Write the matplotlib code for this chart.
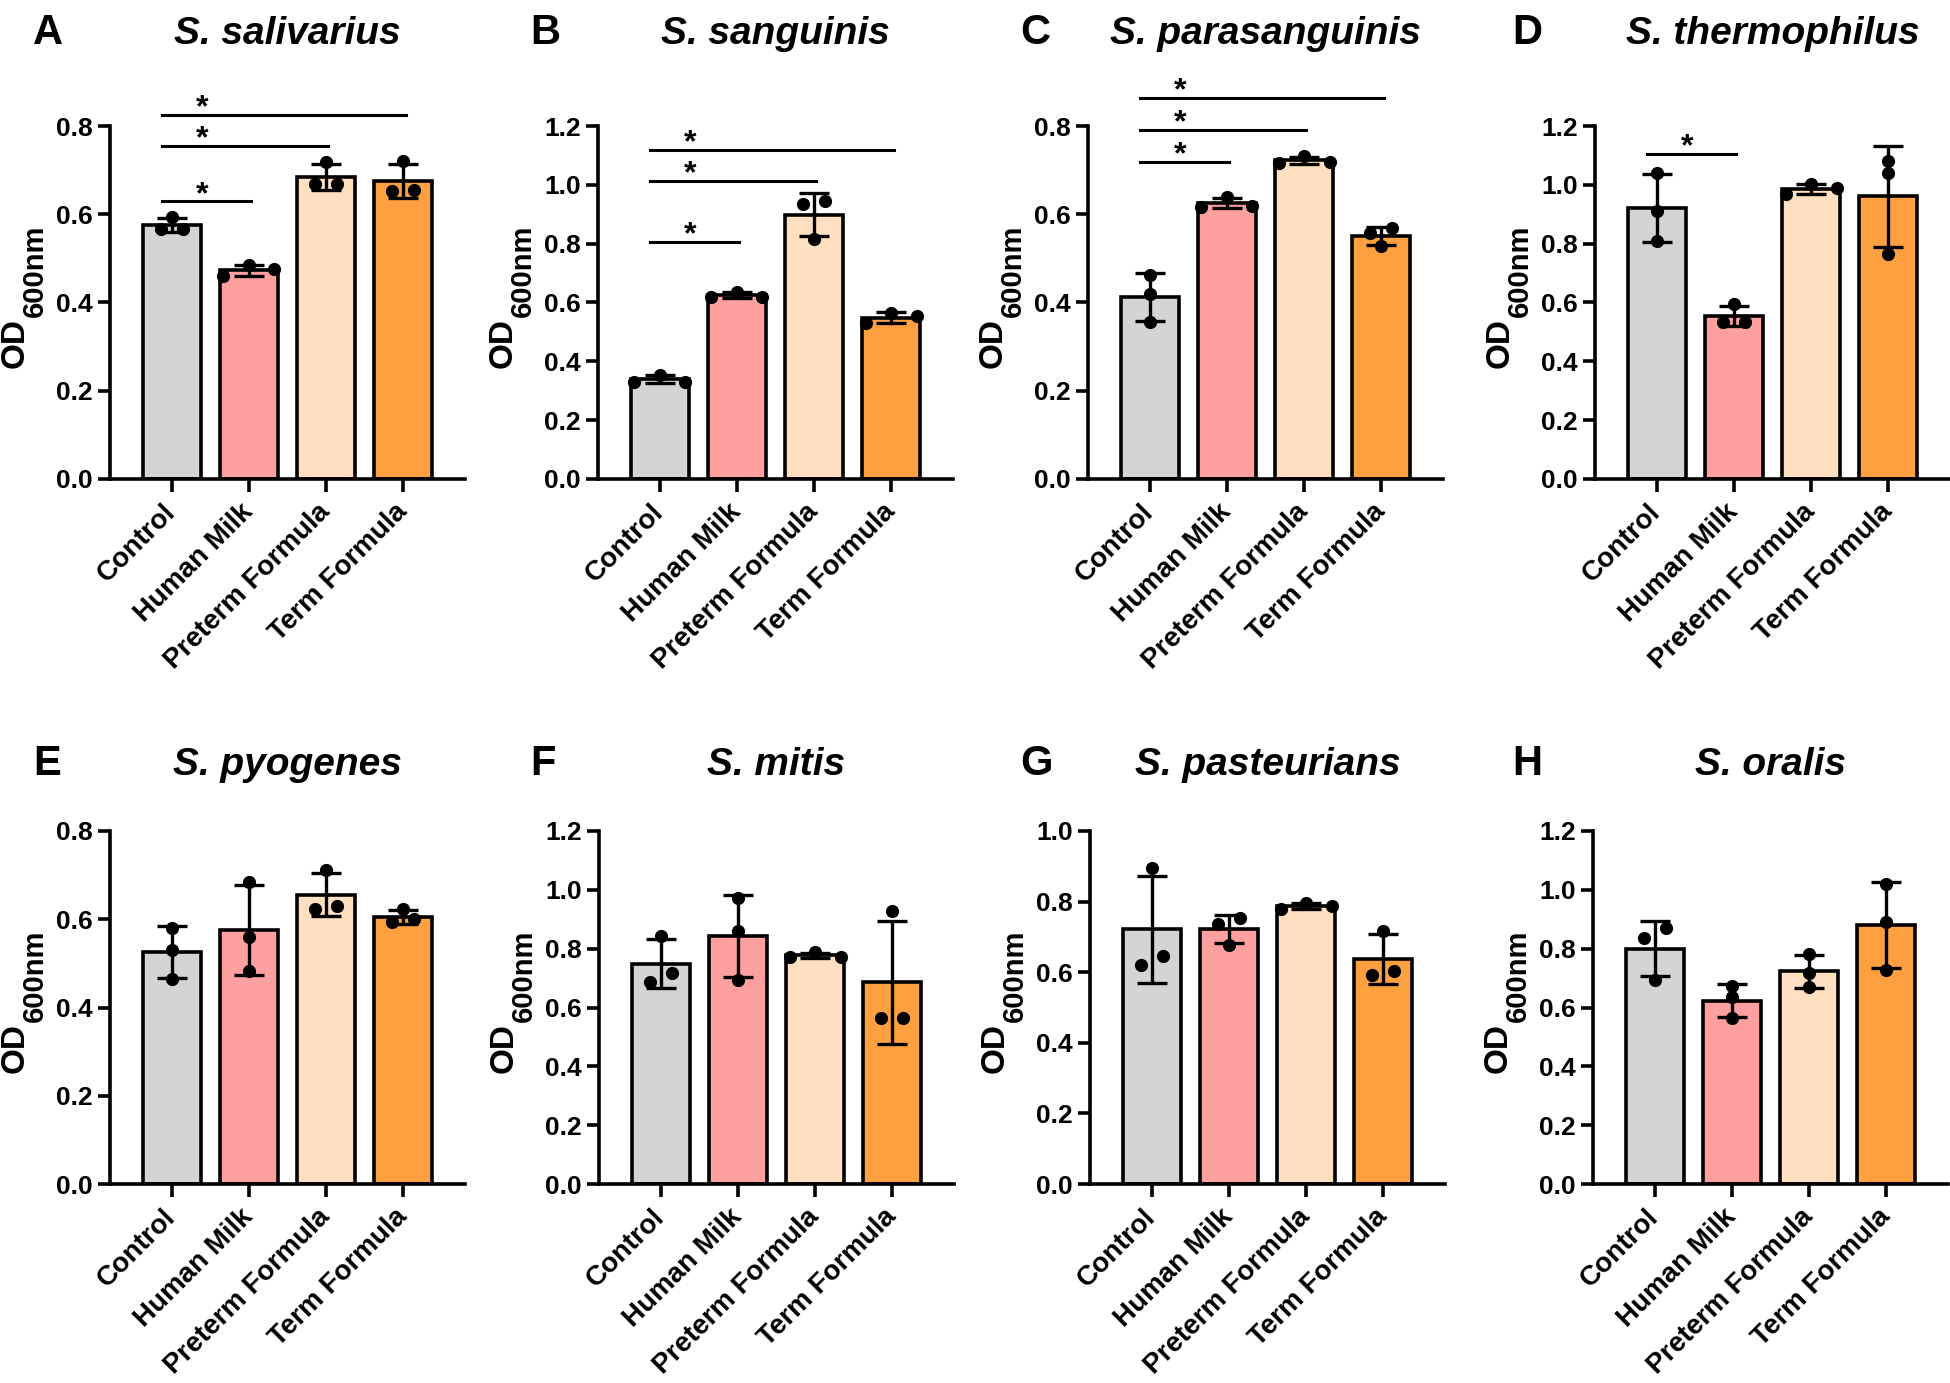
import numpy as np
import matplotlib
matplotlib.use("Agg")
import matplotlib.pyplot as plt

plt.rcParams["font.family"] = ["Liberation Sans", "DejaVu Sans"]
plt.rcParams["font.weight"] = "bold"

groups = ["Control", "Human Milk", "Preterm Formula", "Term Formula"]
colors = ["#D4D4D4", "#FFA0A0", "#FFDFC0", "#FFA040"]

letters = ["A", "B", "C", "D", "E", "F", "G", "H"]
titles = ["S. salivarius", "S. sanguinis", "S. parasanguinis", "S. thermophilus",
          "S. pyogenes", "S. mitis", "S. pasteurians", "S. oralis"]
ymax = [0.8, 1.2, 0.8, 1.2, 0.8, 1.2, 1.0, 1.2]

# OD600 replicates, one list of 3 per group (Control, HM, Preterm, Term)
salivarius = [[0.594, 0.566, 0.566], [0.485, 0.459, 0.475], [0.718, 0.668, 0.668], [0.720, 0.655, 0.652]]
sanguinis = [[0.354, 0.331, 0.331], [0.637, 0.620, 0.620], [0.945, 0.935, 0.815], [0.563, 0.529, 0.554]]
parasanguinis = [[0.462, 0.419, 0.355], [0.638, 0.617, 0.619], [0.717, 0.732, 0.719], [0.568, 0.557, 0.527]]
thermophilus = [[1.041, 0.912, 0.810], [0.595, 0.535, 0.535], [0.968, 1.002, 0.990], [1.081, 1.039, 0.765]]
pyogenes = [[0.581, 0.531, 0.465], [0.685, 0.560, 0.482], [0.712, 0.624, 0.631], [0.624, 0.594, 0.600]]
mitis = [[0.843, 0.718, 0.686], [0.971, 0.861, 0.694], [0.773, 0.788, 0.773], [0.928, 0.565, 0.565]]
pasteurians = [[0.896, 0.620, 0.647], [0.754, 0.737, 0.677], [0.778, 0.795, 0.788], [0.718, 0.592, 0.602]]
oralis = [[0.869, 0.837, 0.694], [0.672, 0.636, 0.563], [0.782, 0.718, 0.668], [1.019, 0.892, 0.727]]
panels = [salivarius, sanguinis, parasanguinis, thermophilus, pyogenes, mitis, pasteurians, oralis]

# significant comparisons vs Control: (group index, bracket height)
sig = {
    0: [(1, 0.629), (2, 0.755), (3, 0.825)],
    1: [(1, 0.805), (2, 1.013), (3, 1.118)],
    2: [(1, 0.718), (2, 0.792), (3, 0.863)],
    3: [(1, 1.105)],
}

W, H = 1950, 1383
fig = plt.figure(figsize=(W / 100, H / 100), dpi=100)
renderer = fig.canvas.get_renderer()

ax_w, ax_h = 355, 353
lefts = [110, 598, 1088, 1595, 110, 599, 1090, 1593]
bottoms = [479] * 4 + [1184] * 4
letter_x = [33, 530, 1020, 1512] * 2
base_y = [44] * 4 + [775] * 4


def spread(vals, ypx):
    # points closer than ~10 px get pushed sideways, roughly like Prism does
    order = list(np.argsort(vals)[::-1])
    clusters = []
    for i in order:
        if clusters and (vals[clusters[-1][-1]] - vals[i]) * ypx < 10:
            clusters[-1].append(i)
        else:
            clusters.append([i])
    off = np.zeros(len(vals))
    for c in clusters:
        if len(c) == 2:
            hi, lo = c
            off[lo], off[hi] = -0.14, 0.14
        elif len(c) == 3:
            hi, mid, lo = c
            off[hi], off[lo], off[mid] = 0.0, -0.33, 0.33
    return off


def od_label(left_px, bottom_px):
    # "OD" + subscript "600nm", rotated, centred on the axis
    kw = dict(rotation=90, rotation_mode="anchor", ha="left", va="baseline")
    od = fig.text(0, 0, "OD", fontsize=24, **kw)
    sub = fig.text(0, 0, "600nm", fontsize=21, **kw)
    l1 = od.get_window_extent(renderer).height
    l2 = sub.get_window_extent(renderer).height
    y0 = (H - bottom_px) + ax_h / 2 - (l1 + l2) / 2 + 6
    od.set_position(((left_px - 86) / W, y0 / H))
    sub.set_position(((left_px - 67) / W, (y0 + l1 + 1) / H))


for k, data in enumerate(panels):
    ax = fig.add_axes([lefts[k] / W, 1 - bottoms[k] / H, ax_w / W, ax_h / H])
    x = np.arange(len(groups))
    vals = [np.array(v) for v in data]
    means = [v.mean() for v in vals]
    sds = [v.std(ddof=1) for v in vals]

    ax.bar(x, means, width=0.75, color=colors, edgecolor="black", linewidth=2.6, zorder=1)
    ax.errorbar(x, means, yerr=sds, fmt="none", ecolor="black", elinewidth=2.4,
                capsize=11, capthick=2.4, zorder=2, clip_on=False)
    ypx = ax_h / ymax[k]
    for i, v in enumerate(vals):
        ax.scatter(i + spread(v, ypx), v, s=72, color="black", zorder=3, clip_on=False)

    for j, yb in sig.get(k, []):
        ax.plot([-0.12, j + 0.03], [yb, yb], color="black", lw=2.2, clip_on=False)
        ax.annotate("*", (0.4, yb), xytext=(0, -1), textcoords="offset points",
                    ha="center", va="baseline", fontsize=23, annotation_clip=False)

    ax.set_xlim(-0.8, 3.8)
    ax.set_ylim(0, ymax[k])
    ticks = np.arange(0, ymax[k] + 0.01, 0.2)
    ax.set_yticks(ticks)
    ax.set_yticklabels([f"{t:.1f}" for t in ticks])
    ax.set_xticks(x)
    ax.set_xticklabels(groups, rotation=45, ha="right", va="center", rotation_mode="anchor",
                       fontsize=20)
    for s in ["top", "right"]:
        ax.spines[s].set_visible(False)
    for s in ["left", "bottom"]:
        ax.spines[s].set_linewidth(2.6)
    ax.tick_params(axis="both", length=9, width=2.6)
    ax.tick_params(axis="y", labelsize=19)
    ax.tick_params(axis="x", pad=12)
    od_label(lefts[k], bottoms[k])

    cx = (lefts[k] + ax_w / 2) / W
    fig.text(cx, 1 - base_y[k] / H, titles[k], ha="center", va="baseline",
             fontsize=28, fontweight="bold", fontstyle="italic")
    fig.text(letter_x[k] / W, 1 - base_y[k] / H, letters[k], ha="left", va="baseline",
             fontsize=30, fontweight="bold")

fig.savefig("out.png", dpi=100)
